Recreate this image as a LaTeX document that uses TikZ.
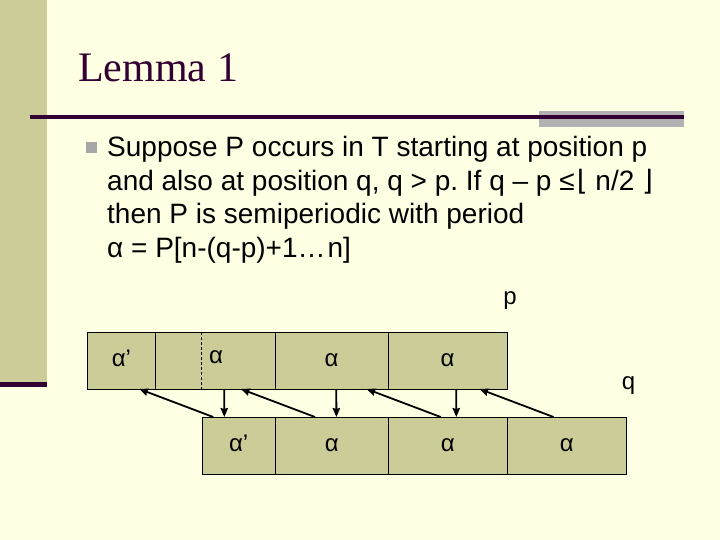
\documentclass[tikz,border=0pt]{standalone}
\usepackage{fontspec}
\setmainfont{Liberation Sans}
\newfontfamily\titlefont{Liberation Serif}
\newfontfamily\floorfont{DejaVu Sans}
\usetikzlibrary{positioning,calc,arrows.meta}
\definecolor{slidebg}{HTML}{FFFFE3}
\definecolor{khaki}{HTML}{CCCC99}
\definecolor{plum}{HTML}{330033}
\definecolor{rulegray}{HTML}{B2B2B2}
\definecolor{bulletgray}{HTML}{A6A6A6}
\frenchspacing
\tikzset{
  cell/.style={draw=black, fill=khaki, line width=0.8pt, minimum height=57pt,
    inner sep=0pt, outer sep=0pt, font=\fontsize{24}{28}\selectfont,
    text height=12.5pt, text depth=0pt},
  lbl/.style={inner sep=0pt, font=\fontsize{24}{28}\selectfont,
    text height=12.5pt, text depth=0pt},
  bodyline/.style={anchor=base west, inner sep=0pt, font=\fontsize{28}{33.5}\selectfont},
  link/.style={->, line width=1.8pt}
}
\begin{document}
\begin{tikzpicture}[x=1pt, y=-1pt, >={Stealth[length=9pt,width=7.5pt,inset=1pt]}]
  % Slide frame
  \fill[slidebg] (0,0) rectangle (720,540);
  \fill[khaki] (0,0) rectangle (47,382);
  \fill[plum] (0,382) rectangle (47,387);
  \fill[rulegray] (539,111) rectangle (684,127);
  \draw[plum, line width=4pt] (30,117) -- (684,117);

  % Title
  \node[anchor=base west, inner sep=0pt, text=plum,
    font=\titlefont\fontsize{42}{46}\selectfont] (title) at (78,82) {Lemma 1};

  % Statement
  \fill[bulletgray] (86,142) rectangle (97,153);
  \node[bodyline] (l1) at (107,157) {Suppose P occurs in T starting at position p};
  \node[bodyline] (l2) at ([yshift=-33.5pt]l1.base west)
    {and also at position q, q > p. If q – p ≤\kern2pt{\floorfont⌊} n/2 {\floorfont⌋}};
  \node[bodyline] (l3) at ([yshift=-33.5pt]l2.base west) {then P is semiperiodic with period};
  \node[bodyline] (l4) at ([yshift=-33.5pt]l3.base west) {α = P[n-(q-p)+1…\kern2pt n]};

  % Occurrence at p
  \node[cell, minimum width=68pt, anchor=north west] (t1) at (87.4,332) {α’};
  \node[cell, minimum width=119.8pt, right=0pt of t1] (t2) {};
  \node[cell, minimum width=112.9pt, right=0pt of t2] (t3) {α};
  \node[cell, minimum width=119.1pt, right=0pt of t3] (t4) {α};
  \node[lbl] (t2a) at (216,357) {α};
  \draw[dash pattern=on 3pt off 2pt, line width=0.7pt]
    ($(t2.north west)+(45.8,0)$) -- ($(t2.south west)+(45.8,0)$);

  % Occurrence at q
  \node[cell, minimum width=73.3pt, anchor=north west] (b1) at (202,417) {α’};
  \node[cell, minimum width=112.9pt, right=0pt of b1] (b2) {α};
  \node[cell, minimum width=119.1pt, right=0pt of b2] (b3) {α};
  \node[cell, minimum width=119.1pt, right=0pt of b3] (b4) {α};

  \node[lbl, anchor=base] (p) at (510,304) {p};
  \node[lbl, anchor=base] (q) at (628.5,389) {q};

  % Arrows
  \draw[link] ($(b1.north west)+(11.2,0)$) -- ($(t1.south west)+(51.8,0)$);
  \draw[link] ($(b2.north west)+(39.7,0)$) -- ($(t2.south west)+(85.5,0)$);
  \draw[link] ($(b3.north west)+(52.5,0)$) -- ($(t3.south west)+(91.4,0)$);
  \draw[link] ($(b4.north west)+(46.2,0)$) -- ($(t4.south west)+(91.4,0)$);
  \draw[link] ($(t2.south west)+(68.8,0)$) -- ($(b1.north west)+(22.3,0)$);
  \draw[link] ($(t3.south west)+(61.1,0)$) -- ($(b2.north west)+(61.1,0)$);
  \draw[link] ($(t4.south west)+(68.1,0)$) -- ($(b3.north west)+(68.1,0)$);
\end{tikzpicture}
\end{document}
